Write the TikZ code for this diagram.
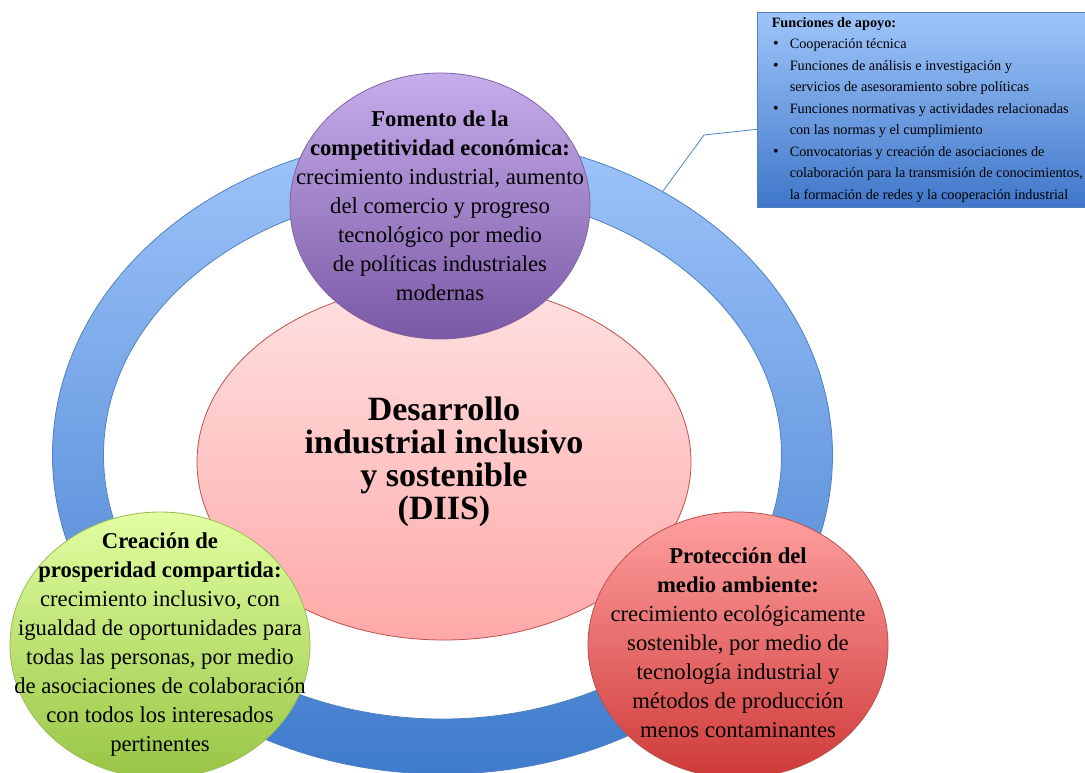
\documentclass[tikz,border=0pt]{standalone}
\usepackage{fontspec}
\setmainfont{Liberation Serif}
\usetikzlibrary{shapes.geometric}
\definecolor{ringtop}{HTML}{9EC4FA}
\definecolor{ringbot}{HTML}{3F7BCD}
\definecolor{ringline}{HTML}{4F81BD}
\definecolor{coretop}{HTML}{FFE1E1}
\definecolor{corebot}{HTML}{FFA9A9}
\definecolor{coreline}{HTML}{C0504D}
\definecolor{violettop}{HTML}{C6ADEB}
\definecolor{violetbot}{HTML}{7A58A5}
\definecolor{violetline}{HTML}{8064A2}
\definecolor{greentop}{HTML}{E2FFA2}
\definecolor{greenbot}{HTML}{97C544}
\definecolor{greenline}{HTML}{9BBB59}
\definecolor{redtop}{HTML}{FFA0A0}
\definecolor{redbot}{HTML}{CE3A38}
\definecolor{redline}{HTML}{B8504D}
\definecolor{boxtop}{HTML}{9EC5FA}
\definecolor{boxbot}{HTML}{4077C9}
\newcommand{\itm}{\makebox[13.5pt][l]{\hspace{1pt}\large\textbullet}}
\newcommand{\cont}{\hspace*{13.5pt}}
\tikzset{
  pillar/.style={ellipse,inner sep=0pt,minimum width=225pt,minimum height=199.5pt,line width=.6pt},
  pillartext/.style={align=center,inner sep=0pt,font=\fontsize{17}{21.75}\selectfont},
}
\begin{document}
\begin{tikzpicture}[x=.75pt,y=-.75pt]
  \useasboundingbox (0,0) rectangle (1085,772);
  % ring
  \shade[top color=ringtop,bottom color=ringbot,draw=ringline,line width=.6pt] (442.5,455) ellipse (390 and 319);
  \filldraw[fill=white,draw=ringline,line width=.6pt] (442.5,455) ellipse (339 and 264);
  % centre
  \node[ellipse,inner sep=0pt,minimum width=370.5pt,minimum height=267pt,top color=coretop,bottom color=corebot,draw=coreline,line width=.6pt,align=center,font=\bfseries\fontsize{25.5}{24.75}\selectfont] (core) at (444,462) {Desarrollo\\industrial inclusivo\\y sostenible\\(DIIS)};
  % the three pillars
  \node[pillar,top color=violettop,bottom color=violetbot,draw=violetline] (fomento) at (440,206) {};
  \node[pillartext] (fomentotxt) at (fomento.center) {\textbf{Fomento de la}\\\textbf{competitividad económica:}\\crecimiento industrial, aumento\\del comercio y progreso\\tecnológico por medio\\de políticas industriales\\modernas};
  \node[pillar,top color=greentop,bottom color=greenbot,draw=greenline] (prosperidad) at (160,645) {};
  \node[pillartext] (prosperidadtxt) at (prosperidad.center) {\textbf{Creación de}\\\textbf{prosperidad compartida:}\\crecimiento inclusivo, con\\igualdad de oportunidades para\\todas las personas, por medio\\de asociaciones de colaboración\\con todos los interesados\\pertinentes};
  \node[pillar,top color=redtop,bottom color=redbot,draw=redline] (ambiente) at (738,645) {};
  \node[pillartext] (ambientetxt) at ([yshift=1.5pt]ambiente.center) {\textbf{Protección del}\\\textbf{medio ambiente:}\\crecimiento ecológicamente\\sostenible, por medio de\\tecnología industrial y\\métodos de producción\\menos contaminantes};
  % support functions
  \node[anchor=north west,top color=boxtop,bottom color=boxbot,draw=ringline,line width=.5pt,minimum height=146.25pt,minimum width=255pt,inner xsep=6pt,inner ysep=1pt,align=left,font=\fontsize{10.7}{16.1}\selectfont] (apoyo) at (757,12) {\textbf{Funciones de apoyo:}\\
    \itm Cooperación técnica\\
    \itm Funciones de análisis e investigación y\\
    \cont servicios de asesoramiento sobre políticas\\
    \itm Funciones normativas y actividades relacionadas\\
    \cont con las normas y el cumplimiento\\
    \itm Convocatorias y creación de asociaciones de\\
    \cont colaboración para la transmisión de conocimientos,\\
    \cont la formación de redes y la cooperación industrial};
  \coordinate (bend) at (704,135);
  \coordinate (ringpt) at (663,191);
  \draw[ringline,line width=.6pt] ([yshift=-14.6pt]apoyo.west) -- (bend) -- (ringpt);
\end{tikzpicture}
\end{document}
